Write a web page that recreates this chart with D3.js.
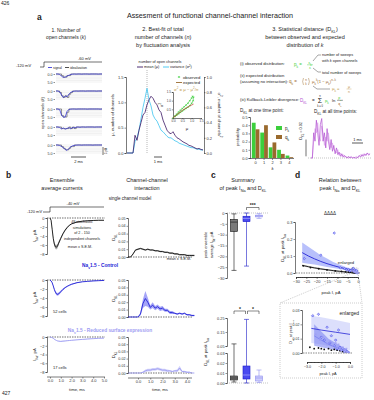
<!DOCTYPE html>
<html><head><meta charset="utf-8">
<script src="https://cdn.jsdelivr.net/npm/d3@7"></script>
<style>
body{margin:0;background:#fff}
svg{font-family:Arial,"Liberation Sans",sans-serif}
</style></head><body>
<svg id="fig" width="374" height="400"></svg>
<script>
// ---- data ----
// a1: open channels per sweep (0.25 ms steps)
const sweep1 = [0,0,0.2,1.4,2.1,1.9,1.3,0.8,0.3,0.1,0,0.1,0,0,0.1,0,0,0,0.1,0,0,0,0,0.1,0,0]
const sweep2 = [0,0,0.5,2.5,4.2,3.1,3.6,2.0,0.9,0.3,0.1,0,0.1,0,0,0,0.1,0,0,0,0,0,0.1,0,0,0]
const sweep3 = [0,0,0.4,3.8,5.2,5.0,1.5,0.3,0.1,0,0,0.1,0,0,0,0,0,0.1,0,0,0,0,0,0,0.1,0]
const sweep4 = [0,0,0.3,1.2,0.6,1.4,0.9,0.4,1.1,0.3,0.6,0.1,0,0.2,0,0,0.1,0,0,0,0,0.1,0,0,0,0]
const sweep5 = [0,0,0.3,0.9,1.8,2.6,3.4,2.2,1.2,0.5,0.2,0.1,0,0,0.1,0,0,0,0,0,0.1,0,0,0,0,0]
const sweeps = [sweep1, sweep2, sweep3, sweep4, sweep5]

// a2: mean and variance of open channels (0.25 ms steps)
const muVals = [0,0,0,0,0.35,0.25,0.45,0.6,0.75,0.8,0.95,1.05,1.12,1.08,1.0,0.95,0.85,0.8,0.65,0.55,0.45,0.4,0.38,0.42,0.35,0.3,0.28,0.25,0.22,0.2,0.18,0.15,0.14,0.12,0.1,0.08,0.09,0.07,0.06]
const varVals = [0,0,0,0,0.15,0.2,0.3,0.45,0.6,0.72,0.85,0.7,0.62,0.5,0.45,0.42,0.36,0.3,0.28,0.25,0.22,0.2,0.2,0.18,0.16,0.15,0.13,0.12,0.11,0.1,0.09,0.08,0.07,0.07,0.06,0.05,0.05,0.04,0.04]
const peakTime = 2.5
const obsMu = [0,0.1,0.2,0.3,0.4,0.5,0.6,0.7,0.8,0.9,1.0,1.05,1.1,1.08,1.0,0.9,0.8,0.7,0.6,0.5,0.4,0.3,0.2,0.1]
const obsVar = [0,0.12,0.22,0.35,0.45,0.55,0.65,0.75,0.85,1.0,1.15,1.25,1.2,1.0,0.85,0.72,0.62,0.55,0.48,0.4,0.32,0.24,0.16,0.08]
const expMu = [0,0.25,0.5,0.75,1.0,1.1]
const expVar = [0,0.23,0.44,0.61,0.75,0.80]

// a3: distributions at one time point, D_KL over time (0.125 ms steps)
const kValues = [0,1,2,3,4]
const pK = [0.43,0.31,0.13,0.10,0.03]
const qK = [0.35,0.40,0.19,0.05,0.01]
const dklAll = [0,0,0.03,0.02,0.045,0.03,0.015,0.04,0.047,0.02,0.03,0.012,0.035,0.02,0.01,0.022,0.008,0.015,0.005,0.012,0.004,0.007,0.002,0.005,0.001,0.003,0.001,0,0.002,0,0.001,0,0.001,0,0,0.001,0.003,0.001,0.004,0.002,0.005,0.003,0.006,0.004,0.005]
const dklAll2 = [0,0,0.02,0.035,0.03,0.042,0.025,0.02,0.038,0.03,0.015,0.025,0.02,0.03,0.015,0.012,0.018,0.01,0.008,0.006,0.01,0.003,0.006,0.002,0.004,0.001,0.002,0.001,0,0.001,0.002,0,0,0.001,0.002,0,0.002,0.004,0.002,0.005,0.003,0.004,0.006,0.003,0.005]

// b: ensemble currents
const curT = [0,0.1,0.2,0.3,0.4,0.5,0.6,0.7,0.8,1.0,1.2,1.4,1.6,1.8,2.0,2.5,3.0,3.5,4.0,4.5,5.0]
const modelI = [0,-0.5,-2.5,-4.5,-5.8,-6.4,-6.5,-6.2,-5.6,-4.5,-3.5,-2.7,-2.1,-1.6,-1.3,-0.9,-0.7,-0.6,-0.55,-0.5,-0.5]
const modelSem = [0,0.1,0.2,0.3,0.4,0.5,0.5,0.5,0.4,0.3,0.2,0.2,0.15,0.1,0.1,0.1,0.05,0.05,0.05,0.05,0.05]
const ctrlI = [0,-0.2,-0.6,-1.3,-2.1,-2.7,-3.1,-3.2,-3.1,-2.6,-2.1,-1.7,-1.4,-1.15,-0.95,-0.6,-0.4,-0.3,-0.2,-0.15,-0.1]
const ctrlSem = [0,0.05,0.1,0.15,0.2,0.25,0.3,0.3,0.3,0.25,0.2,0.15,0.1,0.1,0.1,0.08,0.06,0.05,0.05,0.05,0.05]
const redI = [0,-0.05,-0.15,-0.3,-0.5,-0.65,-0.8,-0.9,-0.95,-1.0,-0.95,-0.9,-0.85,-0.8,-0.75,-0.65,-0.55,-0.45,-0.38,-0.3,-0.25]
const redSem = [0,0.02,0.03,0.05,0.06,0.07,0.08,0.08,0.08,0.08,0.08,0.07,0.07,0.06,0.06,0.05,0.05,0.04,0.04,0.04,0.04]

// b: channel-channel interaction (0.2 ms steps from -0.8 ms)
const dklT = [-0.8,-0.6,-0.4,-0.2,0,0.2,0.4,0.6,0.8,1.0,1.2,1.4,1.6,1.8,2.0,2.2,2.4,2.6,2.8,3.0,3.2,3.4,3.6,3.8,4.0,4.2,4.4,4.6]
const modelDkl = [0,0,0.004,0.009,0.010,0.011,0.010,0.009,0.010,0.009,0.009,0.008,0.008,0.007,0.007,0.006,0.006,0.005,0.005,0.004,0.004,0.003,0.003,0.003,0.002,0.002,0.002,0.002]
const modelDklSem = [0,0,0.001,0.001,0.001,0.001,0.001,0.001,0.001,0.001,0.001,0.001,0.001,0.001,0.001,0.001,0.001,0.001,0.001,0.001,0.001,0.001,0.001,0.001,0.001,0.001,0.001,0.001]
const ctrlDkl = [0,0,0,0,0,0.004,0.018,0.025,0.02,0.013,0.016,0.012,0.014,0.011,0.012,0.009,0.009,0.006,0.006,0.005,0.004,0.005,0.004,0.005,0.003,0.003,0.002,0.002]
const ctrlDklSem = [0,0,0,0,0,0.002,0.006,0.010,0.006,0.003,0.004,0.003,0.003,0.003,0.003,0.002,0.002,0.002,0.002,0.001,0.001,0.001,0.001,0.001,0.001,0.001,0.001,0.001]
const redDkl = [0,0,0,0,0,0,0.001,0.003,0.004,0.004,0.005,0.005,0.006,0.005,0.004,0.004,0.003,0.003,0.002,0.003,0.003,0.007,0.002,0.002,0.001,0.001,0,0]
const redDklSem = [0,0,0,0,0,0,0.001,0.002,0.002,0.002,0.002,0.002,0.002,0.002,0.002,0.002,0.002,0.001,0.001,0.001,0.002,0.003,0.001,0.001,0.001,0.001,0,0]

// c: box stats [min, q1, median, q3, max]
const peakStats = [[-26.5,-8.5,-4.2,-3,-0.4], [-24.5,-4,-2.5,-1.5,0], [-2.5,-1.8,-1.3,-1,-0.3]]
const dklStats = [[0.001,0.003,0.005,0.007,0.065], [0,0.004,0.008,0.017,0.24], [0.0005,0.002,0.005,0.007,0.013]]

// d: peak current vs D_KL per cell
const blueI = [-26,-18,-11.5,-8.5,-6.5,-5.5,-4.5,-4,-3.5,-2.6,-2.2,-2.0,-1.8,-1.6,-1.4,-1.3,-1.1,-1.0,-0.9,-0.8,-0.7,-0.6,-0.5,-0.4,-0.3,-0.2]
const blueD = [0.085,0.105,0.235,0.03,0.025,0.018,0.02,0.012,0.015,0.026,0.027,0.011,0.009,0.018,0.007,0.012,0.005,0.009,0.003,0.016,0.004,0.002,0.003,0.001,0.002,0.001]
const blackI = [-26.5,-23,-19,-15,-11,-8,-6,-4.5,-3.5,-2.8,-2.5,-2.2,-2,-1.8,-1.5,-1.3,-1.1,-0.9,-0.7,-0.5,-0.3]
const blackD = [0.042,0.032,0.025,0.018,0.012,0.009,0.007,0.005,0.004,0.004,0.003,0.0035,0.003,0.0025,0.003,0.002,0.0025,0.002,0.0015,0.001,0.001]
const lightI = [-2.4,-2.1,-1.9,-1.6,-1.4,-1.2,-1.0,-0.9,-0.8,-0.7,-0.6,-0.5,-0.4,-0.3,-0.25,-0.2,-0.15]
const lightD = [0.013,0.009,0.011,0.006,0.008,0.005,0.007,0.004,0.006,0.003,0.002,0.004,0.002,0.001,0.003,0.001,0.0005]
const fitI = [-27,-24,-21,-18,-15,-12,-9,-6,-3,0]
const blueFit = [0.12,0.10,0.083,0.068,0.055,0.044,0.034,0.025,0.017,0.01]
const blueLo = [0.06,0.055,0.05,0.043,0.036,0.03,0.024,0.018,0.012,0.006]
const blueHi = [0.18,0.155,0.13,0.105,0.085,0.065,0.05,0.035,0.024,0.015]
const blackFit = [0.045,0.037,0.03,0.024,0.019,0.014,0.01,0.006,0.003,0.0]
const insetI = [-2.7,-2,-1,0]
const insetBlueFit = [0.0172,0.016,0.0145,0.013]
const insetBlueLo = [0.007,0.006,0.004,0.002]
const insetBlueHi = [0.026,0.025,0.023,0.021]
const redFitI = [-2.5,-2,-1.5,-1,-0.5,0]
const redFit = [0.012,0.009,0.006,0.004,0.002,0.0]
const redFitHi = [0.02,0.015,0.01,0.007,0.004,0.001]
const redFitLo = [0.005,0.004,0.003,0.002,0.001,0]

// ---- helpers ----
const C = {model:'#111', ctrl:'#2424d6', red:'#9d9df2', green:'#3ccf3c', brown:'#9a6a2e',
  purple:'#b04fd0', mu:'#3b1764', vr:'#3ec4f0', tan:'#c09a50'}
const svg = d3.select('#fig')

function rich(x, y, parts, o = {}) {
  const fs = o.fs || 4.5
  const t = svg.append('text').attr('x', x).attr('y', y)
    .attr('font-size', fs).attr('fill', o.fill || '#222')
    .attr('text-anchor', o.anchor || 'start')
  if (o.fw) t.attr('font-weight', o.fw)
  if (o.rot) t.attr('transform', `rotate(${o.rot},${x},${y})`)
  parts.forEach(p => {
    if (typeof p === 'string') { t.append('tspan').text(p); return }
    const s = t.append('tspan').text(p.t)
    if (p.sub) s.attr('baseline-shift', 'sub').attr('font-size', fs * 0.7)
    if (p.sup) s.attr('baseline-shift', 'super').attr('font-size', fs * 0.7)
    if (p.fill) s.attr('fill', p.fill)
    if (p.it) s.attr('font-style', 'italic')
  })
  return t
}
const txt = (x, y, s, o) => rich(x, y, [s], o)

function axis(tr, gen, fs) {
  const g = svg.append('g').attr('transform', tr).call(gen)
  g.attr('font-size', fs || 4).attr('font-family', null)
  g.select('.domain').attr('stroke', '#222').attr('stroke-width', 0.6)
  g.selectAll('.tick line').attr('stroke', '#222').attr('stroke-width', 0.5)
  g.selectAll('.tick text').attr('fill', '#333')
  return g
}
function hline(x1, x2, y, col, dash, w) {
  svg.append('line').attr('x1', x1).attr('x2', x2).attr('y1', y).attr('y2', y)
    .attr('stroke', col || '#000').attr('stroke-width', w || 0.6)
    .attr('stroke-dasharray', dash || null)
}
function path(d, col, w, dash) {
  return svg.append('path').attr('d', d).attr('fill', 'none')
    .attr('stroke', col).attr('stroke-width', w || 0.6).attr('stroke-dasharray', dash || null)
}
function trace(xs, ys, x, y, col, w, curve) {
  const ln = d3.line().x((d, i) => x(xs[i])).y(d => y(d)).curve(curve || d3.curveLinear)
  return path(ln(ys), col, w)
}
function band(xs, lo, hi, x, y, col, op) {
  const ar = d3.area().x((d, i) => x(xs[i])).y0((d, i) => y(lo[i])).y1((d, i) => y(hi[i]))
  svg.append('path').attr('d', ar(xs)).attr('fill', col).attr('opacity', op || 0.5)
}
// small asterisk marker
const star = (px, py, r) => `M${px - r},${py}H${px + r}M${px - r * 0.6},${py - r * 0.8}L${px + r * 0.6},${py + r * 0.8}M${px - r * 0.6},${py + r * 0.8}L${px + r * 0.6},${py - r * 0.8}`

// ---- headers ----
txt(1, 5, '426', {fs: 5})
txt(2, 395, '427', {fs: 5})
txt(37, 20, 'a', {fs: 8.5, fw: 'bold'})
txt(210, 18, 'Assesment of functional channel-channel interaction', {fs: 7.2, anchor: 'middle'})
txt(66, 32, '1. Number of', {fs: 5, anchor: 'middle'})
rich(66, 39, ['open channels (', {t: 'k', it: true}, ')'], {fs: 5, anchor: 'middle'})
txt(163, 31, '2. Best-fit of total', {fs: 5.5, anchor: 'middle'})
rich(163, 39, ['number of channels (', {t: 'n', it: true}, ')'], {fs: 5.5, anchor: 'middle'})
txt(163, 47, 'by fluctuation analysis', {fs: 5.5, anchor: 'middle'})
rich(305, 31, ['3. Statistical distance (D', {t: 'KL', sub: true}, ')'], {fs: 5.5, anchor: 'middle'})
txt(305, 39, 'between observed and expected', {fs: 5.5, anchor: 'middle'})
rich(305, 47, ['distribution of ', {t: 'k', it: true}], {fs: 5.5, anchor: 'middle'})

// ---- a1 ----
txt(16, 67, '-120 mV', {fs: 4})
path('M40,67H44V62H102', '#111', 0.6)
txt(78, 60, '-60 mV', {fs: 4})
hline(48, 52, 67.5, C.ctrl, null, 0.8)
txt(53, 68.5, 'signal', {fs: 3.4})
hline(65, 69, 67.5, '#222', null, 0.8)
txt(70, 68.5, 'idealization', {fs: 3.4})
const rowTop = [74, 91, 109, 127, 145]
const xA1 = d3.scaleLinear([0, 6.25], [56, 102])
const sweepT = d3.range(26).map(i => i * 0.25)
sweeps.forEach((s, i) => {
  const y = d3.scaleLinear([0, 5], [rowTop[i], rowTop[i] + 8])
  svg.append('g').selectAll('line').data(d3.range(6)).join('line')
    .attr('x1', 56).attr('x2', 102).attr('y1', d => y(d)).attr('y2', d => y(d))
    .attr('stroke', '#d8d8d8').attr('stroke-width', 0.4)
  axis('translate(55,0)', d3.axisLeft(y).tickValues([0, 5]).tickSize(1.5).tickPadding(1), 3.6)
    .select('.domain').remove()
  trace(sweepT, s.map(v => Math.round(v)), xA1, y, '#333', 0.5, d3.curveStepAfter)
  trace(sweepT, s, xA1, y, C.ctrl, 0.7)
})
rich(44, 113, ['open channels (', {t: 'k', it: true}, ')'], {fs: 4, anchor: 'middle', rot: -90})
hline(71, 86, 157, '#111', null, 0.7)
txt(78.5, 163, '2 ms', {fs: 4, anchor: 'middle'})
path('M103,147V155', '#111', 0.6)
txt(107, 151, '5 pA', {fs: 3, anchor: 'middle', rot: -90})

// ---- a2 ----
const xA2 = d3.scaleLinear([0, 9.5], [127, 203])
const yMu = d3.scaleLinear([0, 1.5], [153, 77])
const yVar = d3.scaleLinear([0, 1], [153, 77])
const muT = d3.range(muVals.length).map(i => i * 0.25)
axis('translate(126,0)', d3.axisLeft(yMu).tickValues([0, 0.5, 1, 1.5]).tickFormat(d3.format('.1f')).tickSize(1.5).tickPadding(1), 4)
axis('translate(204,0)', d3.axisRight(yVar).tickValues([0, 0.2, 0.4, 0.6, 0.8, 1]).tickFormat(d3.format('.1f')).tickSize(1.5).tickPadding(1), 4)
rich(114, 115, ['μ, number of channels'], {fs: 4.2, anchor: 'middle', rot: -90})
rich(218, 115, ['σ', {t: '2', sup: true}, ', number of channels', {t: '2', sup: true}], {fs: 4.2, anchor: 'middle', rot: 90})
path(`M${xA2(peakTime)},70V153`, '#888', 0.6, '1,1')
trace(muT, varVals, xA2, yVar, C.vr, 0.8)
trace(muT, muVals, xA2, yMu, C.mu, 0.8)
txt(160, 63, 'number of open channels', {fs: 3.8, anchor: 'middle'})
hline(137, 143, 67, C.mu, null, 0.9)
txt(144, 68, 'mean (μ)', {fs: 3.8})
hline(163, 169, 67, C.vr, null, 0.9)
rich(170, 68, ['variance (σ', {t: '2', sup: true}, ')'], {fs: 3.8})
hline(154, 162, 157, '#111', null, 0.7)
txt(158, 163, '1 ms', {fs: 4, anchor: 'middle'})
// inset
const xIn = d3.scaleLinear([0, 1.5], [173, 201])
const yIn = d3.scaleLinear([0, 1.5], [118, 92])
axis('translate(0,118)', d3.axisBottom(xIn).tickValues([0, 0.5, 1, 1.5]).tickFormat(d3.format('.1f')).tickSize(1.2).tickPadding(0.8), 3)
axis('translate(173,0)', d3.axisLeft(yIn).tickValues([0.5, 1, 1.5]).tickFormat(d3.format('.1f')).tickSize(1.2).tickPadding(0.8), 3)
txt(187, 129.5, 'μ', {fs: 4.2, anchor: 'middle'})
rich(163, 105, ['σ', {t: '2', sup: true}], {fs: 4.2, anchor: 'middle', rot: -90})
trace(obsMu, obsVar, xIn, yIn, C.green, 0.6)
path(obsMu.map((d, i) => star(xIn(d), yIn(obsVar[i]), 0.9)).join(''), C.green, 0.4)
trace(expMu, expVar, xIn, yIn, '#c0392b', 0.7)
path(star(179, 77, 1.2), C.green, 0.5)
txt(183, 78.5, 'observed', {fs: 4.2})
hline(176, 182, 82.5, C.brown, null, 0.9)
txt(183, 84, 'expected', {fs: 4.2})
rich(174, 90.5, ['σ', {t: '2', sup: true}, ' = μ − ', 'μ', {t: '2', sup: true}, '/', {t: 'n', it: true}], {fs: 4.3, fill: C.tan})

// ---- a3 text ----
txt(240, 65, '(i) observed distribution:', {fs: 4.2})
rich(294, 66, ['p', {t: 'k', sub: true}, ' ='], {fs: 4.5, fill: C.green})
rich(310, 63.5, ['ε', {t: 'k', sub: true}], {fs: 3.8, fill: C.green, anchor: 'middle'})
hline(307, 313, 64.8, C.green, null, 0.4)
txt(310, 69, 'ε', {fs: 3.8, fill: C.green, anchor: 'middle'})
path('M313,61L318,55H321', '#222', 0.4)
path('M313,68L318,72H321', '#222', 0.4)
txt(322, 56, 'number of sweeps', {fs: 3.8})
rich(322, 61.5, ['with ', {t: 'k', it: true}, ' open channels'], {fs: 3.8})
txt(322, 73.5, 'total number of sweeps', {fs: 3.8})
txt(240, 77, '(ii) expected distribution', {fs: 4.2})
txt(240, 83, '(assuming no interaction):', {fs: 4.2})
rich(289, 83, ['q', {t: 'k', sub: true}, ' ='], {fs: 4.5, fill: C.brown})
path('M303.5,78Q301.8,81.5 303.5,85M308.5,78Q310.2,81.5 308.5,85', C.brown, 0.45)
txt(306, 80.6, 'n', {fs: 3, fill: C.brown, anchor: 'middle'})
txt(306, 84.6, 'k', {fs: 3, fill: C.brown, anchor: 'middle'})
rich(312, 83, ['μ', {t: 'k', sub: true}, {t: 'k', sup: true}, '(1 − μ', {t: 'k', sub: true}, ')', {t: 'n−k', sup: true}], {fs: 4.2, fill: C.brown})
path('M313,86L317,89H330', '#222', 0.4)
rich(332, 90, ['μ', {t: 'k', sub: true}, ' ='], {fs: 4.2, fill: C.tan})
txt(349, 88, 'μ', {fs: 3.6, fill: C.tan, anchor: 'middle'})
hline(346.5, 351.5, 89, C.tan, null, 0.4)
txt(349, 92.5, 'n', {fs: 3.6, fill: C.tan, anchor: 'middle'})
txt(240, 101, '(iii) Kullback-Leibler divergence:', {fs: 4.2})
rich(300, 101.5, ['D', {t: 'KL', sub: true}], {fs: 4.5, fill: C.purple})
txt(312, 101.5, '=', {fs: 4.5})
txt(320, 103, 'Σ', {fs: 7, anchor: 'middle'})
txt(320, 96.5, 'n', {fs: 2.6, anchor: 'middle'})
txt(320, 106.5, 'k = 0', {fs: 2.6, anchor: 'middle'})
rich(325, 101.5, ['p', {t: 'k', sub: true}], {fs: 4.2, fill: C.green})
txt(332, 101.5, 'ln', {fs: 4.2})
rich(340, 99, ['p', {t: 'k', sub: true}], {fs: 3.6, fill: C.green, anchor: 'middle'})
hline(337, 343, 100.3, '#222', null, 0.4)
rich(340, 104.5, ['q', {t: 'k', sub: true}], {fs: 3.6, fill: C.brown, anchor: 'middle'})
rich(240, 112, ['D', {t: 'KL', sub: true}, ' at one time point:'], {fs: 4.6})
rich(314, 113, ['D', {t: 'KL', sub: true}, ' at all time points:'], {fs: 4.6})

// ---- a3 bars ----
const xK = d3.scaleBand(kValues, [251, 294]).padding(0.1)
const yP = d3.scaleLinear([0, 0.5], [158, 117])
axis('translate(250,0)', d3.axisLeft(yP).tickValues([0, 0.1, 0.2, 0.3, 0.4, 0.5]).tickFormat(d3.format('.1f')).tickSize(1.5).tickPadding(1), 3.8)
axis('translate(0,158.5)', d3.axisBottom(xK).tickSize(1.5).tickPadding(1), 4).select('.domain').attr('d', 'M250,0H294')
const bw = xK.bandwidth() / 2
svg.append('g').selectAll('rect').data(pK).join('rect')
  .attr('x', (d, i) => xK(kValues[i])).attr('y', d => yP(d)).attr('width', bw).attr('height', d => 158 - yP(d))
  .attr('fill', C.green)
svg.append('g').selectAll('rect').data(qK).join('rect')
  .attr('x', (d, i) => xK(kValues[i]) + bw).attr('y', d => yP(d)).attr('width', bw).attr('height', d => 158 - yP(d))
  .attr('fill', C.brown)
txt(239, 137, 'probability', {fs: 4, anchor: 'middle', rot: -90})
txt(272.5, 170, 'k', {fs: 4.2, anchor: 'middle'}).attr('font-style', 'italic')
svg.append('rect').attr('x', 276).attr('y', 126).attr('width', 6).attr('height', 4).attr('fill', C.green)
rich(285, 130, ['p', {t: 'k', sub: true}], {fs: 4.5})
svg.append('rect').attr('x', 276).attr('y', 135).attr('width', 6).attr('height', 4).attr('fill', C.brown)
rich(285, 139, ['q', {t: 'k', sub: true}], {fs: 4.5})

// ---- a3 D_KL over time ----
const xD = d3.scaleLinear([0, 5.5], [311, 370])
const yD = d3.scaleLinear([0, 0.05], [158, 116])
const dT = d3.range(dklAll.length).map(i => i * 0.125)
hline(308, 372, 158, '#888', '1,1', 0.5)
trace(dT, dklAll2, xD, yD, '#dca6ec', 0.7)
trace(dT, dklAll, xD, yD, C.purple, 0.7)
path(`M306,${yD(0.022)}V${yD(0.002)}`, '#111', 0.6)
rich(302, 131, ['D', {t: 'KL', sub: true}, ' = 0.02'], {fs: 3.8, anchor: 'middle', rot: -90})
hline(352, 363, 143, '#111', null, 0.7)
txt(357.5, 141, '1 ms', {fs: 4, anchor: 'middle'})

// ---- b ----
txt(6, 178, 'b', {fs: 8.5, fw: 'bold'})
txt(62, 182, 'Ensemble', {fs: 5.5, anchor: 'middle'})
txt(62, 189.5, 'average currents', {fs: 5.5, anchor: 'middle'})
txt(147, 182, 'Channel-channel', {fs: 5.5, anchor: 'middle'})
txt(147, 189.5, 'interaction', {fs: 5.5, anchor: 'middle'})
txt(130, 200, 'single channel model', {fs: 4.5, anchor: 'middle'})
txt(27, 213, '-120 mV', {fs: 4})
path('M43,212H50V207H104', '#111', 0.6)
txt(73, 205, '-40 mV', {fs: 4, anchor: 'middle'})

const xCur = d3.scaleLinear([0, 5], [50, 104])
const xDkl = d3.scaleLinear([0, 4], [138, 187])
const rows = [
  {top: 218, bot: 254, I: modelI, sem: modelSem, dk: modelDkl, dks: modelDklSem, col: C.model, bandCol: '#999', dTop: 218, dBot: 257},
  {top: 280, bot: 316, I: ctrlI, sem: ctrlSem, dk: ctrlDkl, dks: ctrlDklSem, col: C.ctrl, bandCol: '#8f8ff5', dTop: 280, dBot: 317},
  {top: 337, bot: 372, I: redI, sem: redSem, dk: redDkl, dks: redDklSem, col: C.red, bandCol: '#c9c9fa', dTop: 337, dBot: 373}
]
rows.forEach((r, ri) => {
  const y = d3.scaleLinear([-8, 0], [r.bot, r.top])
  axis('translate(47,0)', d3.axisLeft(y).tickValues([0, -2, -4, -6, -8]).tickSize(1.5).tickPadding(1), 4)
  rich(36, (r.top + r.bot) / 2, ['I', {t: 'Na', sub: true}, ', pA'], {fs: 4.2, anchor: 'middle', rot: -90})
  hline(47, 105, y(0), '#111', '1.5,1', 0.6)
  band(curT, r.I.map((v, i) => v - r.sem[i]), r.I.map((v, i) => v + r.sem[i]), xCur, y, r.bandCol, 0.8)
  trace(curT, r.I, xCur, y, r.col, 0.9)

  const yd = d3.scaleLinear([0, 0.05], [r.dBot, r.dTop])
  axis('translate(128,0)', d3.axisLeft(yd).tickValues([0, 0.01, 0.02, 0.03, 0.04, 0.05]).tickFormat(d3.format('.2f')).tickSize(1.5).tickPadding(1), 3.7)
  rich(115, (r.dTop + r.dBot) / 2, ['D', {t: 'KL', sub: true}], {fs: 4.2, anchor: 'middle', rot: -90})
  hline(128, 192, yd(0), '#111', '1.5,1', 0.6)
  band(dklT, r.dk.map((v, i) => v - r.dks[i]), r.dk.map((v, i) => v + r.dks[i]), xDkl, yd, r.bandCol, 0.8)
  trace(dklT, r.dk, xDkl, yd, r.col, 0.9)
  if (ri === 2) {
    axis('translate(0,377)', d3.axisBottom(xCur).tickValues([0, 1, 2, 3, 4, 5]).tickSize(1.5).tickPadding(1), 4)
      .select('.domain').attr('d', 'M47,0H105')
    axis(`translate(0,378)`, d3.axisBottom(xDkl).tickValues([0, 1, 2, 3, 4]).tickSize(1.5).tickPadding(1), 4)
      .select('.domain').attr('d', 'M128,0H192')
    txt(77, 391, 'time, ms', {fs: 4.2, anchor: 'middle'})
    txt(160, 391, 'time, ms', {fs: 4.2, anchor: 'middle'})
  }
})
txt(82, 223, '49 stochastic', {fs: 3.7, anchor: 'middle'})
txt(82, 228.5, 'simulations', {fs: 3.7, anchor: 'middle'})
txt(82, 234, 'of 2 - 150', {fs: 3.7, anchor: 'middle'})
txt(82, 239.5, 'independent channels', {fs: 3.7, anchor: 'middle'})
txt(80, 247.5, 'mean ± S.E.M.', {fs: 3.7, anchor: 'middle'})
txt(191, 260, 'mean ± S.E.M.', {fs: 3.7, anchor: 'end'})
rich(100, 267, ['Na', {t: 'v', sub: true}, '1.5 - Control'], {fs: 4.8, fill: C.ctrl, anchor: 'middle', fw: 'bold'})
rich(110, 332, ['Na', {t: 'v', sub: true}, '1.5 - Reduced surface expression'], {fs: 4.8, fill: C.red, anchor: 'middle', fw: 'bold'})
txt(53, 313, '52 cells', {fs: 4})
txt(53, 369, '17 cells', {fs: 4})

// ---- c ----
txt(211, 178, 'c', {fs: 8.5, fw: 'bold'})
txt(243, 182, 'Summary', {fs: 5.5, anchor: 'middle'})
rich(243, 189.5, ['of peak I', {t: 'Na', sub: true}, ' and D', {t: 'KL', sub: true}], {fs: 5.5, anchor: 'middle'})
const boxX = [234, 246.5, 259]
const boxFill = ['#7a7a7a', '#4a4af0', '#cfcffc']
const boxStroke = ['#111', '#1c1cc8', '#8f8fee']
const medCol = ['#111', '#b8b8ff', '#8f8fee']
const yC1 = d3.scaleLinear([-30, 0], [278, 213])
axis('translate(227,0)', d3.axisLeft(yC1).tickValues([0, -5, -10, -15, -20, -25, -30]).tickSize(1.5).tickPadding(1), 4)
txt(207, 245, 'peak ensemble', {fs: 3.9, anchor: 'middle', rot: -90})
rich(213, 245, ['average I', {t: 'Na', sub: true}, ', pA'], {fs: 3.9, anchor: 'middle', rot: -90})
hline(227, 268, yC1(0), '#888', '1,1', 0.5)

const yC2lo = d3.scaleLinear([0, 0.03], [383, 353])
const yC2hi = d3.scaleLinear([0.05, 0.25], [346, 318])
const yC2 = v => v <= 0.03 ? yC2lo(v) : v >= 0.05 ? yC2hi(v) : yC2lo(0.03) + (v - 0.03) / 0.02 * (yC2hi(0.05) - yC2lo(0.03))
axis('translate(227,0)', d3.axisLeft(yC2hi).tickValues([0.05, 0.15, 0.25]).tickFormat(d3.format('.2f')).tickSize(1.5).tickPadding(1), 3.8)
axis('translate(227,0)', d3.axisLeft(yC2lo).tickValues([0, 0.01, 0.02, 0.03]).tickFormat(d3.format('.2f')).tickSize(1.5).tickPadding(1), 3.8)
rich(207, 352, ['D', {t: 'KL', sub: true}, ' at peak I', {t: 'Na', sub: true}], {fs: 4.2, anchor: 'middle', rot: -90})
hline(227, 268, yC2(0), '#888', '1,1', 0.5)

function boxes(stats, yf) {
  stats.forEach((s, i) => {
    const cx = boxX[i], w = 7
    const g = svg.append('g')
    g.append('line').attr('x1', cx).attr('x2', cx).attr('y1', yf(s[0])).attr('y2', yf(s[4]))
      .attr('stroke', boxStroke[i]).attr('stroke-width', 0.6)
    ;[s[0], s[4]].forEach(v => g.append('line').attr('x1', cx - 2.5).attr('x2', cx + 2.5)
      .attr('y1', yf(v)).attr('y2', yf(v)).attr('stroke', boxStroke[i]).attr('stroke-width', 0.6))
    const y1 = Math.min(yf(s[1]), yf(s[3])), y2 = Math.max(yf(s[1]), yf(s[3]))
    g.append('rect').attr('x', cx - w / 2).attr('y', y1).attr('width', w).attr('height', y2 - y1)
      .attr('fill', boxFill[i]).attr('stroke', boxStroke[i]).attr('stroke-width', 0.6)
    g.append('line').attr('x1', cx - w / 2).attr('x2', cx + w / 2).attr('y1', yf(s[2])).attr('y2', yf(s[2]))
      .attr('stroke', medCol[i]).attr('stroke-width', 0.6)
  })
}
boxes(peakStats, yC1)
boxes(dklStats, yC2)
path('M246.5,210V207.5H259V210', '#111', 0.5)
txt(252.75, 207, '***', {fs: 5, anchor: 'middle', fw: 'bold'})
path('M234,314V311H245.5V314', '#111', 0.5)
path('M247.5,314V311H259V314', '#111', 0.5)
txt(240, 310.5, '*', {fs: 5, anchor: 'middle', fw: 'bold'})
txt(253, 310.5, '*', {fs: 5, anchor: 'middle', fw: 'bold'})

// ---- d ----
txt(295, 178, 'd', {fs: 8.5, fw: 'bold'})
txt(340, 182, 'Relation between', {fs: 5.5, anchor: 'middle'})
rich(340, 189.5, ['peak I', {t: 'Na', sub: true}, ' and D', {t: 'KL', sub: true}], {fs: 5.5, anchor: 'middle'})
const xDd = d3.scaleLinear([-30, 0], [296, 358])
const yDd = d3.scaleLinear([0, 0.3], [273, 222])
axis('translate(295,0)', d3.axisLeft(yDd).tickValues([0, 0.1, 0.2, 0.3]).tickFormat(d3.format('.1f')).tickSize(1.5).tickPadding(1), 4)
axis('translate(0,277)', d3.axisBottom(xDd).tickValues(d3.range(-30, 1)).tickFormat('').tickSize(1), 4)
axis('translate(0,277)', d3.axisBottom(xDd).tickValues(d3.range(-30, 1, 5)).tickSize(2).tickPadding(1), 4)
txt(331, 294, 'peak I, pA', {fs: 4.2, anchor: 'middle'})
rich(284, 248, ['D', {t: 'KL', sub: true}, ' at peak I', {t: 'Na', sub: true}], {fs: 4.2, anchor: 'middle', rot: -90})
hline(296, 360, yDd(0), '#111', '1.5,1', 0.5)
txt(330, 215, 'ΔΔΔΔ', {fs: 4.5, anchor: 'middle'})
band(fitI, blueLo, blueHi, xDd, yDd, '#7e8cf7', 0.55)
band(fitI, blackFit.map(v => Math.max(0, v - 0.005)), blackFit.map(v => v + 0.005), xDd, yDd, '#aaa', 0.6)
trace(fitI, blueFit, xDd, yDd, C.ctrl, 0.9)
trace(fitI, blackFit, xDd, yDd, '#111', 0.9)
function points(xs, ys, xf, yf, col, shape, filt) {
  const g = svg.append('g')
  xs.forEach((xv, i) => {
    if (filt && !filt(xv, ys[i])) return
    const px = xf(xv), py = yf(ys[i])
    if (shape === 'diamond') g.append('path').attr('d', `M${px},${py - 1.3}L${px + 1.3},${py}L${px},${py + 1.3}L${px - 1.3},${py}Z`)
      .attr('fill', '#aab0ff').attr('stroke', col).attr('stroke-width', 0.4)
    else if (shape === 'square') g.append('rect').attr('x', px - 0.9).attr('y', py - 0.9).attr('width', 1.8).attr('height', 1.8)
      .attr('fill', col).attr('opacity', 0.8)
    else g.append('circle').attr('cx', px).attr('cy', py).attr('r', 0.9).attr('fill', col)
  })
}
points(blackI, blackD, xDd, yDd, '#111', 'dot')
points(blueI, blueD, xDd, yDd, C.ctrl, 'diamond')
points(lightI, lightD, xDd, yDd, C.red, 'square')
txt(346, 264, 'enlarged', {fs: 4.2, anchor: 'middle'})
svg.append('rect').attr('x', xDd(-3)).attr('y', yDd(0.03)).attr('width', xDd(0) - xDd(-3)).attr('height', yDd(0) - yDd(0.03))
  .attr('fill', 'none').attr('stroke', '#999').attr('stroke-width', 0.5).attr('stroke-dasharray', '1,1')
path(`M${xDd(-3)},${yDd(0)}L280,303`, '#999', 0.5, '1,1')
path(`M${xDd(0)},${yDd(0)}L362,303`, '#999', 0.5, '1,1')
svg.append('rect').attr('x', 280).attr('y', 303).attr('width', 82).attr('height', 75)
  .attr('fill', 'none').attr('stroke', '#999').attr('stroke-width', 0.5).attr('stroke-dasharray', '1,1')

// inset
const xE = d3.scaleLinear([-3, 0], [307, 350])
const yE = d3.scaleLinear([0, 0.03], [353, 310])
axis('translate(302,0)', d3.axisLeft(yE).tickValues([0, 0.01, 0.02, 0.03]).tickFormat(d3.format('.2f')).tickSize(1.5).tickPadding(1), 3.6)
axis('translate(0,362)', d3.axisBottom(xE).tickValues(d3.range(-3, 0.01, 0.25)).tickFormat('').tickSize(1), 3.6)
axis('translate(0,362)', d3.axisBottom(xE).tickValues([-3, -2, -1, 0]).tickSize(2).tickPadding(1), 3.6)
txt(328, 375, 'peak I, pA', {fs: 3.8, anchor: 'middle'})
rich(292, 332, ['D', {t: 'KL', sub: true}, ' at peak I', {t: 'Na', sub: true}], {fs: 3.6, anchor: 'middle', rot: -90})
txt(359, 315, 'enlarged', {fs: 5, anchor: 'end'})
hline(303, 352, yE(0), '#111', '1.5,1', 0.5)
band(insetI, insetBlueLo, insetBlueHi, xE, yE, '#b9bff9', 0.5)
band(redFitI, redFitLo, redFitHi, xE, yE, '#7d86f2', 0.6)
trace(insetI, insetBlueFit, xE, yE, C.ctrl, 0.8)
trace(redFitI, redFit, xE, yE, '#6a72ee', 0.6)
const inRange = (a, b) => a >= -3 && b <= 0.03
points(blackI, blackD, xE, yE, '#111', 'dot', inRange)
points(blueI, blueD, xE, yE, C.ctrl, 'diamond', inRange)
points(lightI, lightD, xE, yE, C.red, 'square', inRange)
</script>
</body></html>
